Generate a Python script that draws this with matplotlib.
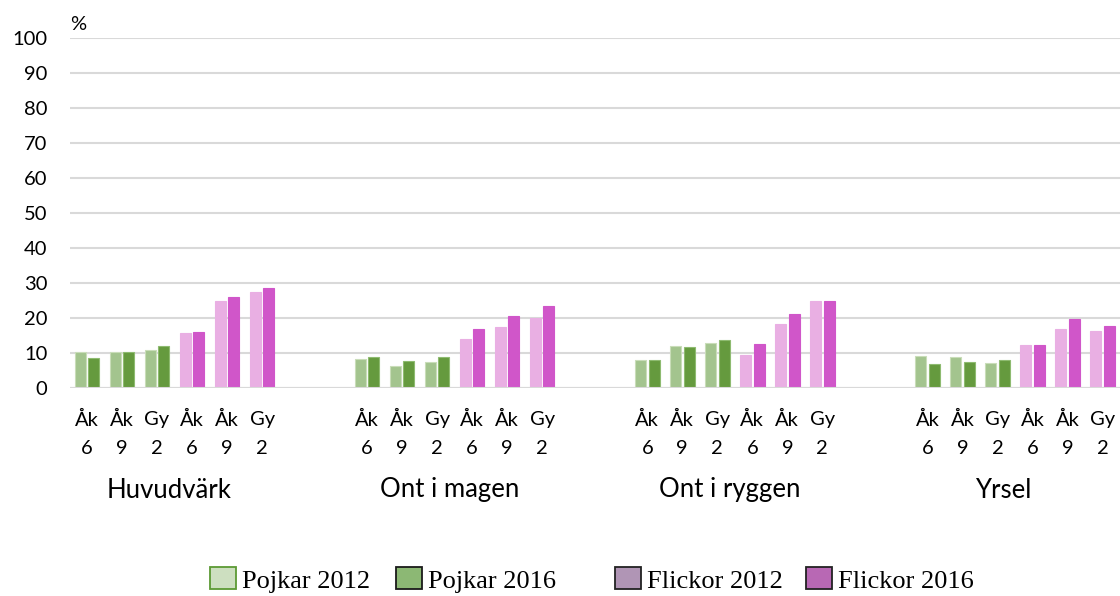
import numpy as np
import matplotlib
matplotlib.use('Agg')
import matplotlib.pyplot as plt
from matplotlib.patches import Rectangle

# Data (percent), order within each group: Åk 6, Åk 9, Gy 2 (pojkar) then Åk 6, Åk 9, Gy 2 (flickor)
groups = ['Huvudvärk', 'Ont i magen', 'Ont i ryggen', 'Yrsel']
sub_labels = ['Åk\n6', 'Åk\n9', 'Gy\n2', 'Åk\n6', 'Åk\n9', 'Gy\n2']

# first value of each pair = 2012, second = 2016
huvudvark = [(10.3, 8.7), (10.4, 10.3), (10.9, 12.1), (15.6, 15.9), (25.0, 26.1), (27.4, 28.7)]
ont_i_magen = [(8.3, 8.8), (6.3, 7.6), (7.4, 9.0), (13.9, 16.8), (17.4, 20.6), (20.0, 23.5)]
ont_i_ryggen = [(7.9, 7.9), (12.1, 11.8), (13.0, 13.6), (9.5, 12.7), (18.3, 21.2), (25.0, 25.0)]
yrsel = [(9.2, 7.0), (8.9, 7.4), (7.2, 8.1), (12.4, 12.4), (16.8, 19.7), (16.2, 17.7)]

legend_labels = ['Pojkar 2012', 'Pojkar 2016', 'Flickor 2012', 'Flickor 2016']

# colours
boy_12, boy_16 = '#a3c48e', '#659a3e'
girl_12, girl_16 = '#e9afe3', '#d056c9'

plt.rcParams['font.family'] = ['Lato', 'DejaVu Sans']

W, H = 1120, 596
fig = plt.figure(figsize=(W / 100, H / 100), dpi=100)
ax = fig.add_axes([69.5 / W, 1 - 388 / H, (W - 69.5) / W, 350 / H])

slots_per_group = 8
bar_w = 0.314
off = 0.193
tick_fs = 14.5

all_data = [huvudvark, ont_i_magen, ont_i_ryggen, yrsel]
for g, data in enumerate(all_data):
    for k, (v12, v16) in enumerate(data):
        x = g * slots_per_group + k
        if k < 3:
            c12, c16, e12, e16 = boy_12, boy_16, '#c9ddb9', '#8ebb70'
        else:
            c12, c16, e12, e16 = girl_12, girl_16, girl_12, girl_16
        ax.bar(x - off, v12, width=bar_w, color=c12, edgecolor=e12, linewidth=0.8, zorder=2)
        ax.bar(x + off, v16, width=bar_w, color=c16, edgecolor=e16, linewidth=0.8, zorder=2)
        # sub category label, two lines
        top, bottom = sub_labels[k].split('\n')
        ax.text(x, -32 / 350, top, transform=ax.get_xaxis_transform(),
                ha='center', va='center', fontsize=tick_fs, color='#000000')
        ax.text(x, -61 / 350, bottom, transform=ax.get_xaxis_transform(),
                ha='center', va='center', fontsize=tick_fs, color='#000000')
    nudge = -0.33 if g == len(all_data) - 1 else -0.15
    ax.text(g * slots_per_group + 2.5 + nudge, -102 / 350, groups[g],
            transform=ax.get_xaxis_transform(), ha='center', va='center',
            fontsize=18.5, color='#000000')

ax.set_xlim(-0.5, 29.5)
ax.set_ylim(0, 100)
ax.set_yticks(np.arange(0, 101, 10))
ax.set_xticks([])
ax.yaxis.grid(True, color='#d9d9d9', linewidth=1.5, zorder=0)
ax.axhline(0, color='#d9d9d9', linewidth=1.5, zorder=3)
ax.set_axisbelow(True)
for s in ax.spines.values():
    s.set_visible(False)
ax.tick_params(axis='y', length=0, pad=16, labelsize=tick_fs)

fig.text(70 / W, 1 - 24 / H, '%', ha='left', va='center', fontsize=tick_fs)

# legend drawn by hand (separate picture in the original)
leg_boxes = [(210, '#cddfc0', '#5c9a34'), (396, '#8cb874', '#1a1a1a'),
             (615, '#b095b5', '#222222'), (806, '#b868b4', '#222222')]
base_y = 588
for (bx, fc, ec), lab in zip(leg_boxes, legend_labels):
    fig.patches.append(Rectangle((bx / W, 1 - (base_y + 1) / H), 26 / W, 22 / H,
                                 transform=fig.transFigure, facecolor=fc,
                                 edgecolor=ec, linewidth=1.3))
    fig.text((bx + 32) / W, 1 - base_y / H, lab, ha='left', va='baseline',
             fontsize=19, family=['Liberation Serif', 'DejaVu Serif'])

fig.savefig('out.png', dpi=100, facecolor='white')
